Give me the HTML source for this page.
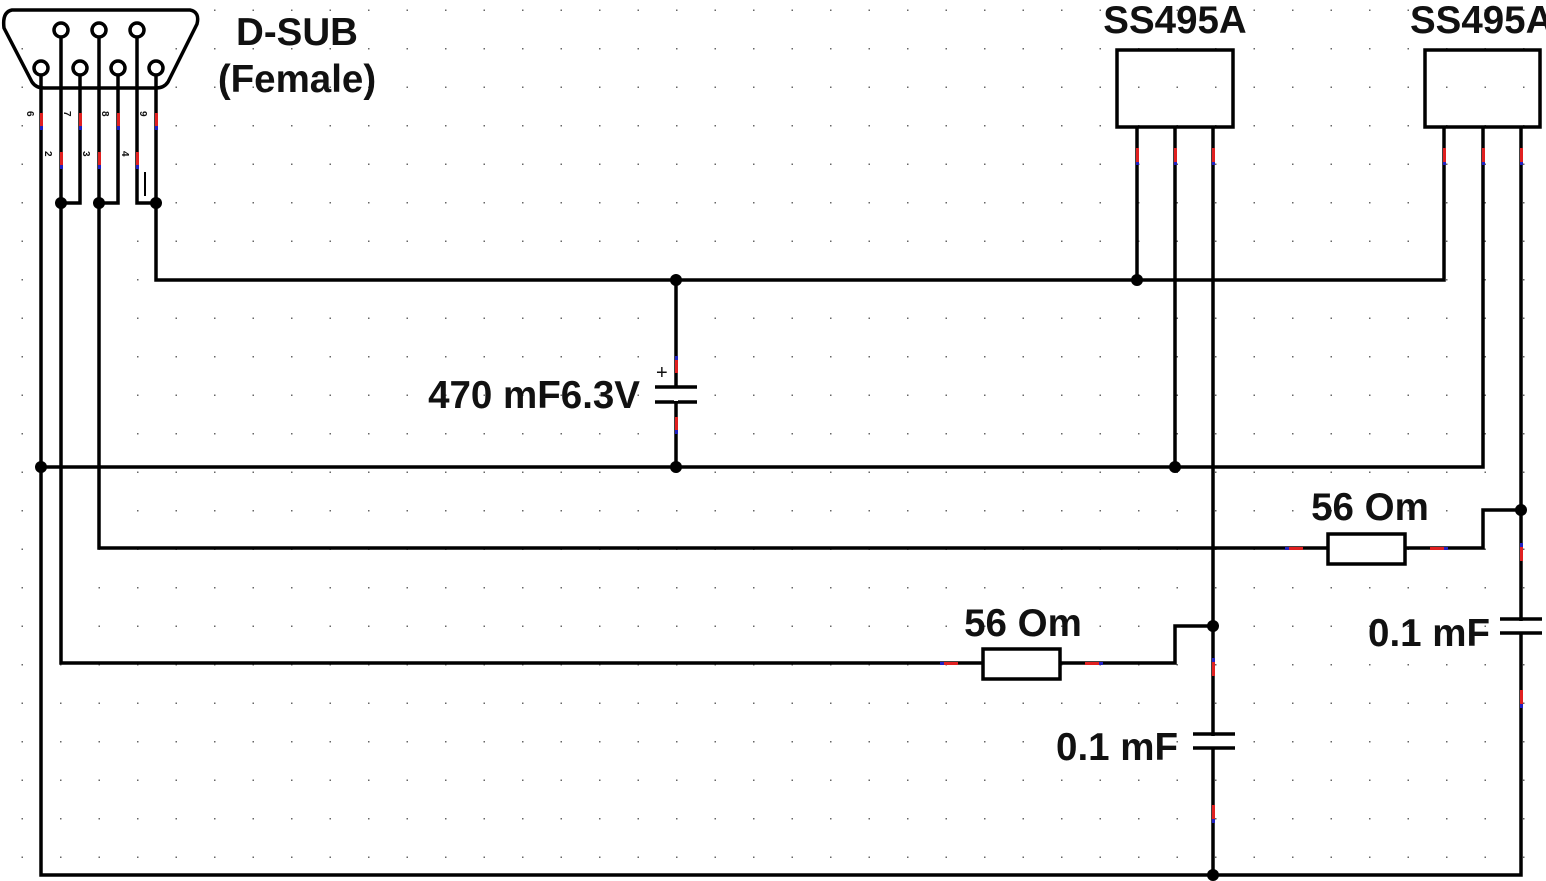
<!DOCTYPE html>
<html><head><meta charset="utf-8"><style>
html,body{margin:0;padding:0;background:#fff;}
svg{display:block;}
text{font-family:"Liberation Sans",sans-serif;font-weight:bold;fill:#111;}
</style></head><body>
<svg width="1546" height="881" viewBox="0 0 1546 881" xmlns="http://www.w3.org/2000/svg">
<defs>
<pattern id="g" x="21.5" y="9.5" width="38.5" height="38.5" patternUnits="userSpaceOnUse">
<rect x="0" y="0" width="1.5" height="1.5" fill="#666"/>
</pattern>
</defs>
<rect width="1546" height="881" fill="#fff"/>
<rect width="1546" height="881" fill="url(#g)"/>
<g stroke="#000" stroke-width="3.5" fill="none" stroke-linejoin="miter">
<path d="M12,10 L190,10 Q200,12 197,24 L168,82 Q164,88 156,88 L44,88 Q36,88 32,82 L4,28 Q2,12 12,10 Z"/>
<circle cx="61" cy="30" r="7" fill="#fff"/>
<circle cx="99" cy="30" r="7" fill="#fff"/>
<circle cx="137" cy="30" r="7" fill="#fff"/>
<circle cx="41" cy="68" r="7" fill="#fff"/>
<circle cx="80" cy="68" r="7" fill="#fff"/>
<circle cx="118" cy="68" r="7" fill="#fff"/>
<circle cx="156" cy="68" r="7" fill="#fff"/>
<path d="M41,75 V875 H1521 V127"/>
<path d="M61,37 V663 H983"/>
<path d="M80,75 V203 H61"/>
<path d="M99,37 V548 H1328"/>
<path d="M118,75 V203 H99"/>
<path d="M137,37 V203 H156"/>
<path d="M156,75 V280 H1444 V127"/>
<path d="M41,467 H1483 V127"/>
<rect x="1117" y="50" width="116" height="77"/>
<rect x="1425" y="50" width="115" height="77"/>
<path d="M1137,127 V280"/>
<path d="M1175,127 V467"/>
<path d="M1213,127 V875"/>
<path d="M676,280 V387 M676,402 V467"/>
<path d="M655,387 H697 M655,402 H697"/>
<rect x="1328" y="534" width="77" height="30" fill="#fff"/>
<path d="M1405,548 H1483 V510 H1521"/>
<rect x="983" y="649" width="77" height="30" fill="#fff"/>
<path d="M1060,663 H1175 V626 H1213"/>
<rect x="1200" y="736" width="26" height="11" fill="#fff" stroke="none"/>
<path d="M1193,734 H1235 M1193,748 H1235"/>
<rect x="1508" y="621" width="26" height="11" fill="#fff" stroke="none"/>
<path d="M1500,619 H1542 M1500,633 H1542"/>
<path d="M145,172 V196" stroke-width="2"/>
</g>
<rect x="674" y="389" width="4" height="12" fill="#fff"/>
<g fill="#000">
<circle cx="61" cy="203" r="6"/><circle cx="99" cy="203" r="6"/><circle cx="156" cy="203" r="6"/>
<circle cx="676" cy="280" r="6"/><circle cx="1137" cy="280" r="6"/>
<circle cx="41" cy="467" r="6"/><circle cx="676" cy="467" r="6"/><circle cx="1175" cy="467" r="6"/>
<circle cx="1521" cy="510" r="6"/><circle cx="1213" cy="626" r="6"/><circle cx="1213" cy="875" r="6"/>
</g>
<g>
<rect x="40" y="113" width="3" height="13" fill="#e02020"/><rect x="40" y="126" width="3" height="4" fill="#2020c0"/>
<rect x="79" y="113" width="3" height="13" fill="#e02020"/><rect x="79" y="126" width="3" height="4" fill="#2020c0"/>
<rect x="117" y="113" width="3" height="13" fill="#e02020"/><rect x="117" y="126" width="3" height="4" fill="#2020c0"/>
<rect x="155" y="113" width="3" height="13" fill="#e02020"/><rect x="155" y="126" width="3" height="4" fill="#2020c0"/>
<rect x="60" y="152" width="3" height="13" fill="#e02020"/><rect x="60" y="165" width="3" height="4" fill="#2020c0"/>
<rect x="98" y="152" width="3" height="13" fill="#e02020"/><rect x="98" y="165" width="3" height="4" fill="#2020c0"/>
<rect x="136" y="152" width="3" height="13" fill="#e02020"/><rect x="136" y="165" width="3" height="4" fill="#2020c0"/>
<rect x="1136" y="148" width="3" height="14" fill="#e02020"/><rect x="1136" y="162" width="3" height="3" fill="#2020c0"/>
<rect x="1174" y="148" width="3" height="14" fill="#e02020"/><rect x="1174" y="162" width="3" height="3" fill="#2020c0"/>
<rect x="1212" y="148" width="3" height="14" fill="#e02020"/><rect x="1212" y="162" width="3" height="3" fill="#2020c0"/>
<rect x="1443" y="148" width="3" height="14" fill="#e02020"/><rect x="1443" y="162" width="3" height="3" fill="#2020c0"/>
<rect x="1482" y="148" width="3" height="14" fill="#e02020"/><rect x="1482" y="162" width="3" height="3" fill="#2020c0"/>
<rect x="1520" y="148" width="3" height="14" fill="#e02020"/><rect x="1520" y="162" width="3" height="3" fill="#2020c0"/>
<rect x="675" y="356" width="3" height="4" fill="#2020c0"/><rect x="675" y="360" width="3" height="13" fill="#e02020"/>
<rect x="675" y="417" width="3" height="13" fill="#e02020"/><rect x="675" y="430" width="3" height="4" fill="#2020c0"/>
<rect x="1285" y="547" width="4" height="3" fill="#2020c0"/><rect x="1289" y="547" width="14" height="3" fill="#e02020"/>
<rect x="1430" y="547" width="14" height="3" fill="#e02020"/><rect x="1444" y="547" width="4" height="3" fill="#2020c0"/>
<rect x="940" y="662" width="4" height="3" fill="#2020c0"/><rect x="944" y="662" width="14" height="3" fill="#e02020"/>
<rect x="1085" y="662" width="14" height="3" fill="#e02020"/><rect x="1099" y="662" width="4" height="3" fill="#2020c0"/>
<rect x="1212" y="658" width="3" height="4" fill="#2020c0"/><rect x="1212" y="662" width="3" height="14" fill="#e02020"/>
<rect x="1212" y="805" width="3" height="14" fill="#e02020"/><rect x="1212" y="819" width="3" height="4" fill="#2020c0"/>
<rect x="1520" y="543" width="3" height="4" fill="#2020c0"/><rect x="1520" y="547" width="3" height="14" fill="#e02020"/>
<rect x="1520" y="690" width="3" height="14" fill="#e02020"/><rect x="1520" y="704" width="3" height="4" fill="#2020c0"/>
</g>
<g style="font-weight:normal;font-size:10px">
<text x="26" y="118" transform="rotate(90 30 115)">6</text>
<text x="63" y="118" transform="rotate(90 67 115)">7</text>
<text x="101" y="118" transform="rotate(90 105 115)">8</text>
<text x="139" y="118" transform="rotate(90 143 115)">9</text>
<text x="44" y="158" transform="rotate(90 48 155)">2</text>
<text x="82" y="158" transform="rotate(90 86 155)">3</text>
<text x="121" y="158" transform="rotate(90 125 155)">4</text>
</g>
<text x="297" y="45" font-size="38.5" text-anchor="middle">D-SUB</text>
<text x="297" y="92" font-size="38.5" text-anchor="middle">(Female)</text>
<text x="1175" y="33" font-size="38.5" text-anchor="middle">SS495A</text>
<text x="1410" y="33" font-size="38.5">SS495A</text>
<text x="640" y="408" font-size="38.5" text-anchor="end">470 mF6.3V</text>
<text x="656" y="379" font-size="20" style="font-weight:normal">+</text>
<text x="1370" y="520" font-size="38.5" text-anchor="middle">56 Om</text>
<text x="1023" y="636" font-size="38.5" text-anchor="middle">56 Om</text>
<text x="1178" y="760" font-size="38.5" text-anchor="end">0.1 mF</text>
<text x="1490" y="646" font-size="38.5" text-anchor="end">0.1 mF</text>
</svg>
</body></html>
